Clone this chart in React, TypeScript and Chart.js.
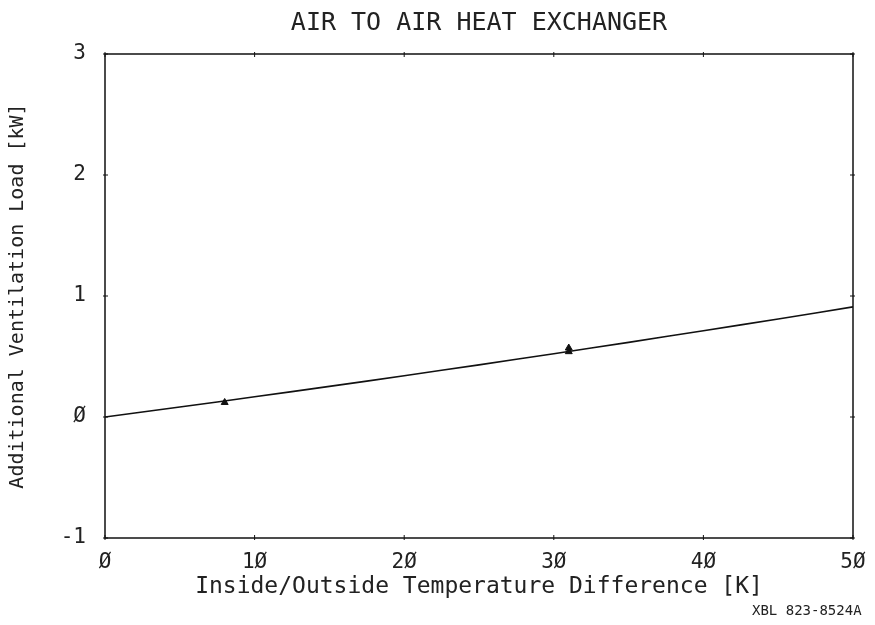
import React, { useEffect, useRef } from "react";
import { Chart, registerables } from "chart.js";

Chart.register(...registerables);

const titleText = "AIR TO AIR HEAT EXCHANGER";
const xTitle = "Inside/Outside Temperature Difference [K]";
const yTitle = "Additional Ventilation Load [kW]";
const noteText = "XBL 823-8524A";

const tempDiff = [0, 5, 10, 15, 20, 25, 30, 35, 40, 45, 50];
const loadCurve = [0.0, 0.082, 0.167, 0.253, 0.341, 0.431, 0.523, 0.617, 0.713, 0.81, 0.91];

const measuredX = [8, 31, 31];
const measuredY = [0.12, 0.57, 0.54];

const xTicks = [0, 10, 20, 30, 40, 50];
const yTicks = [-1, 0, 1, 2, 3];

const MONO = "'DejaVu Sans Mono', monospace";
const INK = "#222";

const fmt = (v: number) => String(v).replace(/0/g, "Ø");

const framePlugin = {
  id: "framePlugin",
  afterDraw(chart: any) {
    const { ctx, chartArea } = chart;
    const { left, right, top, bottom } = chartArea;
    ctx.save();
    ctx.strokeStyle = "#111";
    ctx.lineWidth = 1.5;
    ctx.strokeRect(left, top, right - left, bottom - top);
    const xs = chart.scales.x;
    const ys = chart.scales.y;
    ctx.lineWidth = 1;
    xTicks.forEach((t) => {
      const px = xs.getPixelForValue(t);
      ctx.beginPath();
      ctx.moveTo(px, top - 2);
      ctx.lineTo(px, top + 3);
      ctx.moveTo(px, bottom + 2);
      ctx.lineTo(px, bottom - 3);
      ctx.stroke();
    });
    yTicks.forEach((t) => {
      const py = ys.getPixelForValue(t);
      ctx.beginPath();
      ctx.moveTo(left - 2, py);
      ctx.lineTo(left + 3, py);
      ctx.moveTo(right + 2, py);
      ctx.lineTo(right - 3, py);
      ctx.stroke();
    });
    ctx.fillStyle = INK;
    ctx.font = `25px ${MONO}`;
    ctx.textAlign = "center";
    ctx.textBaseline = "alphabetic";
    ctx.fillText(titleText, (left + right) / 2, 30);
    ctx.font = `14px ${MONO}`;
    ctx.textAlign = "left";
    ctx.fillText(noteText, 752, 615);
    ctx.restore();
  },
};

export default function App() {
  const ref = useRef<HTMLCanvasElement | null>(null);
  useEffect(() => {
    if (!ref.current) return;
    const chart = new Chart(ref.current, {
      type: "scatter",
      data: {
        datasets: [
          {
            label: "curve",
            data: tempDiff.map((x, i) => ({ x, y: loadCurve[i] })),
            showLine: true,
            borderColor: "#111",
            borderWidth: 1.6,
            pointRadius: 0,
            tension: 0.3,
          },
          {
            label: "measured",
            data: measuredX.map((x, i) => ({ x, y: measuredY[i] })),
            showLine: false,
            pointStyle: "triangle",
            pointRadius: 4,
            borderColor: "#111",
            backgroundColor: "#111",
            borderWidth: 1,
          },
        ],
      },
      options: {
        responsive: false,
        animation: false,
        layout: { padding: { left: 0, top: 54, right: 22, bottom: 0 } },
        plugins: {
          legend: { display: false },
          tooltip: { enabled: false },
        },
        scales: {
          x: {
            type: "linear",
            min: 0,
            max: 50,
            afterFit: (s: any) => {
              s.height = 87;
              s.paddingLeft = 0;
              s.paddingRight = 0;
            },
            afterBuildTicks: (s: any) => {
              s.ticks = xTicks.map((v) => ({ value: v }));
            },
            grid: { display: false, drawTicks: false },
            border: { display: false },
            ticks: {
              padding: 12,
              color: INK,
              font: { family: MONO, size: 21 },
              callback: (v: any) => fmt(Number(v)),
              maxRotation: 0,
            },
            title: {
              display: true,
              text: xTitle,
              color: INK,
              font: { family: MONO, size: 23 },
              padding: { top: 0, bottom: 24 },
            },
          },
          y: {
            type: "linear",
            min: -1,
            max: 3,
            afterFit: (s: any) => {
              s.width = 105;
              s.paddingTop = 0;
              s.paddingBottom = 0;
            },
            afterBuildTicks: (s: any) => {
              s.ticks = yTicks.map((v) => ({ value: v }));
            },
            grid: { display: false, drawTicks: false },
            border: { display: false },
            ticks: {
              padding: 19,
              color: INK,
              font: { family: MONO, size: 21 },
              callback: (v: any) => fmt(Number(v)),
            },
            title: {
              display: true,
              text: yTitle,
              color: INK,
              font: { family: MONO, size: 20 },
              padding: { top: 6, bottom: 0 },
            },
          },
        },
      },
      plugins: [framePlugin],
    });
    return () => chart.destroy();
  }, []);
  return (
    <div style={{ position: "fixed", left: 0, top: 0, width: 875, height: 625, background: "#fff" }}>
      <canvas ref={ref} width={875} height={625} />
    </div>
  );
}
